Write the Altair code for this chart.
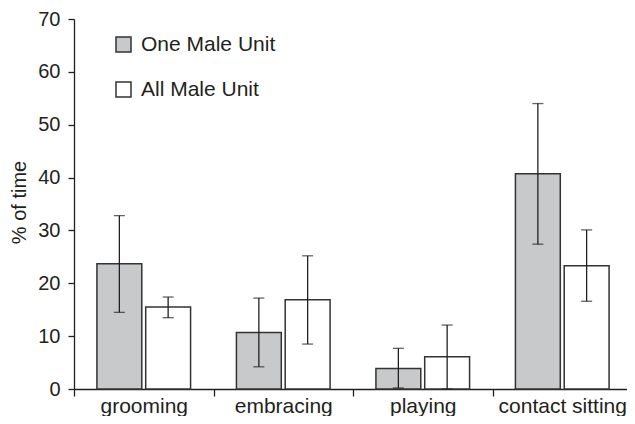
import altair as alt
import pandas as pd

categories = ["grooming", "embracing", "playing", "contact sitting"]
groups = ["One Male Unit", "All Male Unit"]

omu_mean = [23.7, 10.7, 3.9, 40.7]
omu_low = [14.5, 4.2, 0.2, 27.4]
omu_high = [32.8, 17.2, 7.7, 54.0]

amu_mean = [15.5, 16.9, 6.1, 23.3]
amu_low = [13.5, 8.5, 0.0, 16.6]
amu_high = [17.4, 25.2, 12.1, 30.1]

y_ticks = [0, 10, 20, 30, 40, 50, 60, 70]

rows = []
for i, c in enumerate(categories):
    rows.append({"behaviour": c, "unit": groups[0], "mean": omu_mean[i], "low": omu_low[i], "high": omu_high[i]})
    rows.append({"behaviour": c, "unit": groups[1], "mean": amu_mean[i], "low": amu_low[i], "high": amu_high[i]})
df = pd.DataFrame(rows)

FONT = "Liberation Sans"
DARK = "#231f20"
GRAY = "#c8c9cb"

x_enc = alt.X("behaviour:N", sort=categories, title=None,
              scale=alt.Scale(paddingInner=0, paddingOuter=0),
              axis=alt.Axis(labelAngle=0, labelFontSize=21, labelFont=FONT, labelColor=DARK,
                            tickBand="extent", tickSize=7, tickColor=DARK, tickWidth=1.3,
                            domainColor=DARK, domainWidth=1.3, labelPadding=-1))
xo_enc = alt.XOffset("unit:N", sort=groups,
                     scale=alt.Scale(paddingInner=0.08, paddingOuter=0.47))
y_scale = alt.Scale(domain=[0, 70], nice=False)

bars = alt.Chart(df).mark_bar(stroke="#333333", strokeWidth=1.5).encode(
    x=x_enc,
    xOffset=xo_enc,
    y=alt.Y("mean:Q", scale=y_scale, title="% of time",
            axis=alt.Axis(values=y_ticks, labelFontSize=20, labelFont=FONT, labelColor=DARK,
                          tickSize=6, tickColor=DARK, tickWidth=1.3, labelPadding=8,
                          domainColor=DARK, domainWidth=1.3, grid=False,
                          titleFont=FONT, titleFontSize=20, titleFontWeight="normal",
                          titleColor=DARK, titleAngle=-90, titleBaseline="alphabetic",
                          titleAlign="center", titleX=-49, titleY=183)),
    fill=alt.Fill("unit:N", sort=groups,
                  scale=alt.Scale(domain=groups, range=[GRAY, "#ffffff"]),
                  legend=alt.Legend(title=None, orient="none", legendX=39, legendY=15,
                                    symbolType="square", symbolSize=225,
                                    symbolStrokeColor="#333333", symbolStrokeWidth=1.5,
                                    labelFont=FONT, labelFontSize=21, labelColor=DARK,
                                    labelOffset=7, rowPadding=23, padding=0)),
)

rules = alt.Chart(df).mark_rule(color=DARK, strokeWidth=1.3).encode(
    x=alt.X("behaviour:N", sort=categories),
    xOffset=xo_enc,
    y=alt.Y("low:Q", scale=y_scale),
    y2="high:Q",
)

caps_hi = alt.Chart(df).mark_tick(color=DARK, thickness=1.3, size=11).encode(
    x=alt.X("behaviour:N", sort=categories),
    xOffset=xo_enc,
    y=alt.Y("high:Q", scale=y_scale),
)
caps_lo = alt.Chart(df).mark_tick(color=DARK, thickness=1.3, size=11).encode(
    x=alt.X("behaviour:N", sort=categories),
    xOffset=xo_enc,
    y=alt.Y("low:Q", scale=y_scale),
)

chart = alt.layer(bars, rules, caps_hi, caps_lo).properties(
    width=558, height=370,
    autosize=alt.AutoSizeParams(type="none"),
    padding={"left": 66, "top": 11, "right": -5, "bottom": 27},
    background="white",
).configure_view(stroke=None)

chart.save("out.html", embed_options={"renderer": "svg", "actions": False})
